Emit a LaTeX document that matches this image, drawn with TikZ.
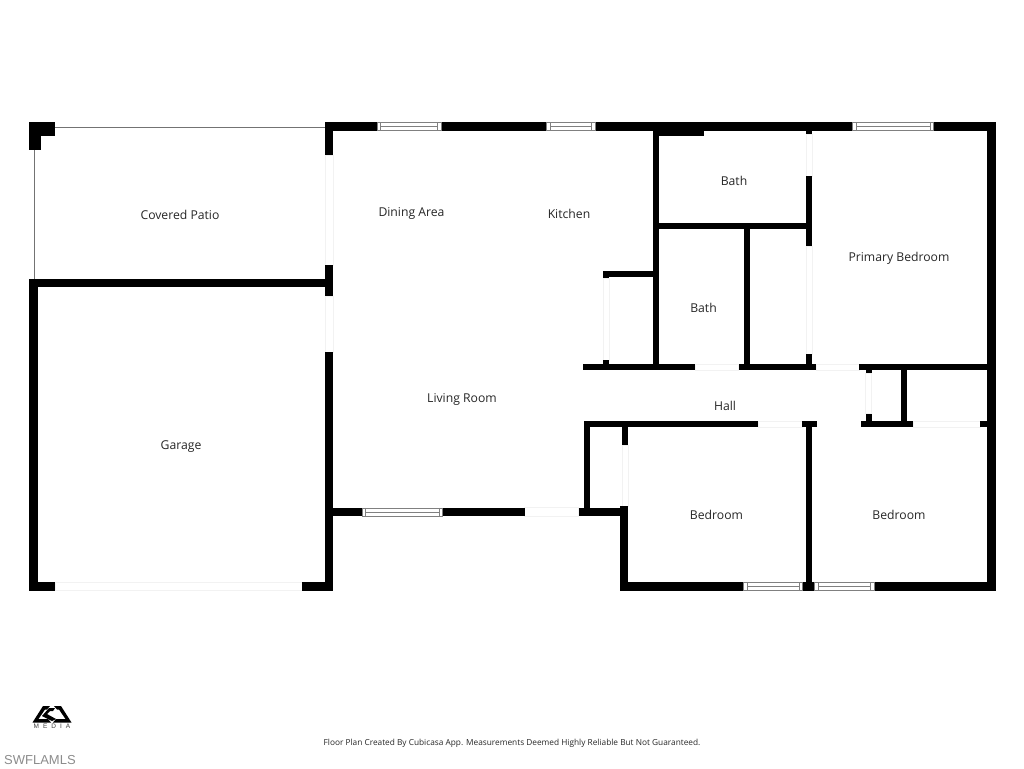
\documentclass[tikz,border=0pt]{standalone}
\usepackage{fontspec}
\setmainfont{Open Sans}
\newfontfamily\mlsfont{Liberation Sans}
\tikzset{
    wall/.style={fill=black},
    faint/.style={draw=black!5, fill=white, line width=0.6pt},
    thinline/.style={draw=black!55, line width=0.8pt},
    winline/.style={draw=black!50, line width=0.6pt},
    room/.style={font=\fontsize{12.2}{15}\selectfont, text=black!85, inner sep=0pt},
}
% finestra orizzontale: x sinistra, x destra, y alto, y basso
\newcommand{\planwindow}[4]{
    \draw[winline, fill=white] (#1,#3) rectangle (#2,#4);
    \draw[winline] (#1+3.5,#3) -- (#1+3.5,#4);
    \draw[winline] (#2-3.5,#3) -- (#2-3.5,#4);
    \draw[winline] (#1+3.5,#3/2+#4/2) -- (#2-3.5,#3/2+#4/2);
}
\begin{document}
\begin{tikzpicture}[x=1pt, y=-1pt]
    \useasboundingbox (0,0) rectangle (1024,768);

    % Linee sottili del portico
    \draw[thinline] (55,127.7) -- (325,127.7);
    \draw[thinline] (34.7,150) -- (34.7,280);

    % Porte
    \draw[faint] (325,155) rectangle (333,265);
    \draw[faint] (325,296) rectangle (333,352);
    \draw[faint] (55,582) rectangle (302,590.5);
    \draw[faint] (524.7,507.5) rectangle (578.7,516);
    \draw[faint] (603,278) rectangle (609,360);
    \draw[faint] (695,364) rectangle (738.7,370);
    \draw[faint] (806,134) rectangle (812,176);
    \draw[faint] (806,246) rectangle (812,354);
    \draw[faint] (816,364) rectangle (859,370);
    \draw[faint] (865.5,373) rectangle (871.5,413.5);
    \draw[faint] (758,421) rectangle (802,427);
    \draw[faint] (913,421) rectangle (980.5,427);
    \draw[faint] (622.5,445) rectangle (628.5,506);

    % Muro esterno
    \fill[wall] (29,122) rectangle (55,136);
    \fill[wall] (29,122) rectangle (41,150);
    \fill[wall] (324.5,122) rectangle (377,130.5);
    \fill[wall] (441,122) rectangle (546.7,130.5);
    \fill[wall] (595,122) rectangle (852.3,130.5);
    \fill[wall] (933.3,122) rectangle (995.7,130.5);
    \fill[wall] (987.3,122) rectangle (995.7,590.5);
    \fill[wall] (324.5,122) rectangle (333,155);
    \fill[wall] (324.5,265) rectangle (333,296);
    \fill[wall] (324.5,352) rectangle (333,590.5);
    \fill[wall] (29,278.7) rectangle (325,287);
    \fill[wall] (29,278.7) rectangle (38,590.5);
    \fill[wall] (29,582) rectangle (55,590.5);
    \fill[wall] (302,582) rectangle (333,590.5);
    \fill[wall] (333,507.5) rectangle (362,516);
    \fill[wall] (442.3,507.5) rectangle (524.7,516);
    \fill[wall] (578.7,507.5) rectangle (628.3,516);
    \fill[wall] (619.7,505.5) rectangle (628.3,590.5);
    \fill[wall] (619.7,582) rectangle (743.3,590.5);
    \fill[wall] (802.7,582) rectangle (814.3,590.5);
    \fill[wall] (874,582) rectangle (995.7,590.5);

    % Muri interni
    \fill[wall] (653.3,122) rectangle (659.3,370);
    \fill[wall] (653.3,122) rectangle (704,135.7);
    \fill[wall] (805.7,122) rectangle (811.7,134);
    \fill[wall] (805.7,176.3) rectangle (811.7,246);
    \fill[wall] (805.7,354) rectangle (811.7,370);
    \fill[wall] (653.3,223.3) rectangle (806,229.3);
    \fill[wall] (744.3,229) rectangle (750.3,370);
    \fill[wall] (602.7,271) rectangle (653.3,277.3);
    \fill[wall] (602.7,271) rectangle (608.7,278);
    \fill[wall] (602.7,359.7) rectangle (608.7,370);
    \fill[wall] (583.3,363.8) rectangle (695,369.8);
    \fill[wall] (738.7,363.8) rectangle (816,369.8);
    \fill[wall] (859.3,363.8) rectangle (988,369.8);
    \fill[wall] (865.5,369) rectangle (871.5,373);
    \fill[wall] (900.7,369) rectangle (906.7,421);
    \fill[wall] (865.5,413.5) rectangle (871.5,421);
    \fill[wall] (583.5,420.7) rectangle (758.3,426.7);
    \fill[wall] (801.7,420.7) rectangle (817.3,426.7);
    \fill[wall] (860.7,420.7) rectangle (913.3,426.7);
    \fill[wall] (980.3,420.7) rectangle (988,426.7);
    \fill[wall] (583.5,420.7) rectangle (589.5,508);
    \fill[wall] (622.3,426) rectangle (628.3,444.7);
    \fill[wall] (805.7,426) rectangle (811.7,583);

    % Finestre
    \planwindow{377}{441}{122.5}{130.5}
    \planwindow{546.7}{595}{122.5}{130.5}
    \planwindow{852.3}{933.3}{122.5}{130.5}
    \planwindow{362}{442.3}{507.8}{516}
    \planwindow{743.3}{802.7}{582.3}{590.3}
    \planwindow{814.3}{874}{582.3}{590.3}

    % Stanze
    \node[room] (room_patio) at (180,214.5) {Covered Patio};
    \node[room] (room_dining) at (411.5,213) {Dining Area};
    \node[room] (room_kitchen) at (569,214) {Kitchen};
    \node[room] (room_bath_up) at (734,181) {Bath};
    \node[room] (room_bath_low) at (703.5,308) {Bath};
    \node[room] (room_primary) at (899,258.5) {Primary Bedroom};
    \node[room] (room_living) at (462,399.5) {Living Room};
    \node[room] (room_hall) at (725,406) {Hall};
    \node[room] (room_garage) at (181,446.5) {Garage};
    \node[room] (room_bed_left) at (716.5,515) {Bedroom};
    \node[room] (room_bed_right) at (899,515) {Bedroom};

    % Logo e note
    \fill[black] (32.5,722.5) -- (43,706) -- (50,706) -- (47,709.5) -- (45,709.5) -- (38.5,719) -- (48,719) -- (51,722.5) -- cycle;
    \fill[black] (71.5,722.5) -- (61,706) -- (54,706) -- (57,709.5) -- (59,709.5) -- (65.5,719) -- (56,719) -- (53,722.5) -- cycle;
    \fill[black] (42,716) -- (49,708) -- (55,708) -- (53,711) -- (50,711) -- (47,714) -- (56,719) -- (52,721) -- cycle;
    \node[font=\fontsize{6.5}{7}\selectfont\mlsfont, text=black!75, inner sep=0pt] (logo_text) at (52,726.5) {M\kern4ptE\kern4ptD\kern4ptI\kern4ptA};
    \node[font=\fontsize{8.3}{10}\selectfont, text=black!85, inner sep=0pt] (note_plan) at (512,743) {Floor Plan Created By Cubicasa App. Measurements Deemed Highly Reliable But Not Guaranteed.};
    \node[font=\fontsize{13}{15}\selectfont\mlsfont, text=black!45, inner sep=0pt, anchor=west] (note_mls) at (4,760) {SWFLAMLS};
\end{tikzpicture}
\end{document}
